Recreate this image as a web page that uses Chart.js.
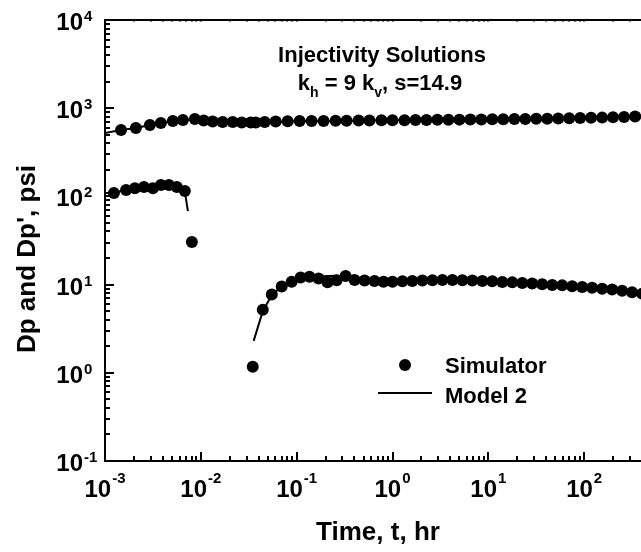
<!DOCTYPE html>
<html>
<head>
<meta charset="utf-8">
<script src="https://cdn.jsdelivr.net/npm/chart.js@4.4.1/dist/chart.umd.min.js"></script>
<style>
  html, body { margin: 0; padding: 0; background: #fff; overflow: hidden; }
  #wrap { width: 641px; height: 552px; overflow: hidden; }
  canvas { display: block; }
</style>
</head>
<body>
<div id="wrap"><canvas id="chart" width="700" height="552"></canvas></div>
<script>
/* Log-log pressure / derivative plot, simulator points against Model 2 */

// simulator pressure change Dp (psi)
var simTimeDp = [0.00147, 0.0021, 0.00294, 0.00383, 0.0051, 0.0065, 0.00866, 0.0107, 0.0133, 0.0169,
  0.0215, 0.0267, 0.0332, 0.0374, 0.0464, 0.0604, 0.0805, 0.1074, 0.1432, 0.191, 0.2547, 0.332,
  0.443, 0.575, 0.767, 1.0, 1.334, 1.738, 2.26, 2.94, 3.83, 4.99, 6.49, 8.45, 11.0, 14.3, 18.7,
  24.3, 31.6, 41.2, 53.6, 69.8, 90.8, 118, 154, 200, 261, 340, 443, 576, 750];
var simDp = [565, 595, 644, 678, 714, 734, 753, 724, 705, 696,
  696, 687, 687, 687, 696, 705, 712, 714, 716, 718, 720, 722,
  724, 726, 728, 730, 732, 734, 736, 738, 740, 742, 744, 746, 748, 750, 752,
  755, 758, 761, 764, 768, 772, 777, 782, 788, 795, 803, 811, 819, 828];

// simulator derivative Dp' (psi)
var simTimeDer = [0.00124, 0.00166, 0.00205, 0.00255, 0.00316, 0.00383, 0.00464, 0.00562, 0.00681, 0.00806,
  0.0348, 0.0443, 0.055, 0.0698, 0.0887, 0.110, 0.136, 0.169, 0.21, 0.261, 0.324, 0.402, 0.511,
  0.649, 0.806, 1.0, 1.27, 1.61, 2.05, 2.61, 3.32, 4.22, 5.36, 6.81, 8.66, 11.0, 14.0, 17.8, 22.6,
  28.7, 36.5, 46.4, 59.0, 75.0, 95.3, 121, 154, 196, 249, 316, 402, 511, 649, 825];
var simDer = [109, 118, 124, 128, 124, 135, 135, 128, 115, 30.5,
  1.17, 5.2, 7.7, 9.5, 10.8, 12.0, 12.3, 11.7, 10.6, 11.2, 12.5, 11.3, 11.1,
  11.0, 10.8, 10.8, 10.9, 11.0, 11.1, 11.2, 11.3, 11.3, 11.2, 11.1, 11.0, 10.9, 10.7, 10.6, 10.4,
  10.3, 10.1, 9.9, 9.8, 9.6, 9.4, 9.2, 9.0, 8.8, 8.5, 8.2, 7.9, 7.6, 7.3, 7.0];

// Model 2 curves
var modelTimeDp = [0.001, 0.00147, 0.0021, 0.00294, 0.00383, 0.0051, 0.0065, 0.00866, 0.0133, 0.02,
  0.03, 0.05, 0.1, 1, 10, 100, 1000];
var modelDp = [523, 565, 598, 645, 680, 714, 735, 750, 712, 698,
  690, 695, 712, 730, 747, 774, 835];
var modelTimeDer = [0.001, 0.00124, 0.00166, 0.00205, 0.00255, 0.00316, 0.00383, 0.00464, 0.00562, 0.00681,
  0.00733, 0.02, 0.0356, 0.0443, 0.055, 0.0698, 0.0887, 0.11, 0.136, 0.169, 0.21, 0.26, 0.33, 0.5,
  1, 3, 10, 30, 100, 300, 1000];
var modelDer = [109, 110, 118, 124, 128, 127, 133, 134, 128, 113,
  68, null, 2.3, 5.0, 7.6, 9.5, 10.9, 11.8, 12.1, 12.3, 12.5, 12.6, 12.3, 11.6,
  11.0, 11.2, 10.9, 10.3, 9.4, 8.3, 7.0];

// axis decades
var xTickExp = [-3, -2, -1, 0, 1, 2, 3];
var yTickExp = [-1, 0, 1, 2, 3, 4];

var FONT = '"Liberation Sans", Arial, Helvetica, sans-serif';

function pts(xs, ys) {
  return xs.map(function (x, i) { return { x: x, y: ys[i] }; });
}

var framePlugin = {
  id: 'frame',
  afterDatasetsDraw: function (chart) {
    var ctx = chart.ctx;
    var a = chart.chartArea;
    var xs = chart.scales.x;
    var ys = chart.scales.y;
    ctx.save();
    ctx.strokeStyle = '#000';
    ctx.fillStyle = '#000';

    // border
    ctx.lineWidth = 2;
    ctx.strokeRect(a.left, a.top, a.right - a.left, a.bottom - a.top);

    // inward ticks
    xTickExp.forEach(function (e) {
      for (var m = 1; m <= 9; m++) {
        var v = m * Math.pow(10, e);
        if (v > xs.max * 1.0001) break;
        var px = Math.round(xs.getPixelForValue(v));
        var len = m === 1 ? 9 : 5;
        ctx.lineWidth = 2;
        ctx.beginPath();
        ctx.moveTo(px, a.bottom);
        ctx.lineTo(px, a.bottom - len);
        ctx.stroke();
        ctx.lineWidth = 1;
        ctx.beginPath();
        ctx.moveTo(px, a.top);
        ctx.lineTo(px, a.top + 2);
        ctx.stroke();
      }
    });
    yTickExp.forEach(function (e) {
      for (var m = 1; m <= 9; m++) {
        var v = m * Math.pow(10, e);
        if (v > ys.max * 1.0001) break;
        var py = Math.round(ys.getPixelForValue(v));
        var len = m === 1 ? 9 : 5;
        ctx.lineWidth = 2;
        ctx.beginPath();
        ctx.moveTo(a.left, py);
        ctx.lineTo(a.left + len, py);
        ctx.moveTo(a.right, py);
        ctx.lineTo(a.right - len, py);
        ctx.stroke();
      }
    });

    // tick labels, 10 with superscript exponent
    var baseFont = 'bold 24px ' + FONT;
    var expFont = 'bold 15px ' + FONT;
    ctx.textBaseline = 'alphabetic';
    xTickExp.forEach(function (e) {
      var px = xs.getPixelForValue(Math.pow(10, e));
      ctx.font = baseFont;
      var wb = ctx.measureText('10').width;
      ctx.font = expFont;
      var we = ctx.measureText(String(e)).width;
      var x0 = px - (wb + we + 1) / 2;
      ctx.textAlign = 'left';
      ctx.font = baseFont;
      ctx.fillText('10', x0, 497);
      ctx.font = expFont;
      ctx.fillText(String(e), x0 + wb + 1, 483);
    });
    yTickExp.forEach(function (e) {
      var py = ys.getPixelForValue(Math.pow(10, e));
      ctx.font = baseFont;
      ctx.textAlign = 'right';
      ctx.fillText('10', 83, py + 10);
      ctx.font = expFont;
      ctx.textAlign = 'left';
      ctx.fillText(String(e), 84, py + 1);
    });

    // axis titles
    ctx.font = 'bold 26px ' + FONT;
    ctx.textAlign = 'center';
    ctx.fillText('Time, t, hr', 378, 540);
    ctx.save();
    ctx.translate(35, 259);
    ctx.rotate(-Math.PI / 2);
    ctx.fillText("Dp and Dp', psi", 0, 0);
    ctx.restore();

    // annotation
    ctx.font = 'bold 22px ' + FONT;
    ctx.fillText('Injectivity Solutions', 382, 62);
    var parts = [['k', 0], ['h', 1], [' = 9 k', 0], ['v', 1], [', s=14.9', 0]];
    var total = 0;
    parts.forEach(function (p) {
      ctx.font = p[1] ? 'bold 14px ' + FONT : 'bold 22px ' + FONT;
      p.push(ctx.measureText(p[0]).width);
      total += p[2];
    });
    var cx = 380 - total / 2;
    ctx.textAlign = 'left';
    parts.forEach(function (p) {
      ctx.font = p[1] ? 'bold 14px ' + FONT : 'bold 22px ' + FONT;
      ctx.fillText(p[0], cx, p[1] ? 97 : 90);
      cx += p[2];
    });

    // legend
    var ds = chart.data.datasets;
    ctx.font = 'bold 22px ' + FONT;
    ctx.beginPath();
    ctx.arc(405, 365, 6, 0, Math.PI * 2);
    ctx.fill();
    ctx.fillText(ds[0].label, 445, 373);
    ctx.lineWidth = 2;
    ctx.beginPath();
    ctx.moveTo(378, 393);
    ctx.lineTo(432, 393);
    ctx.stroke();
    ctx.fillText(ds[2].label, 445, 403);

    ctx.restore();
  }
};

new Chart(document.getElementById('chart'), {
  type: 'scatter',
  data: {
    datasets: [
      { label: 'Simulator', data: pts(simTimeDp, simDp), pointRadius: 6, backgroundColor: '#000', borderWidth: 0, order: 1 },
      { label: 'Simulator', data: pts(simTimeDer, simDer), pointRadius: 6, backgroundColor: '#000', borderWidth: 0, order: 1 },
      { label: 'Model 2', data: pts(modelTimeDp, modelDp), showLine: true, pointRadius: 0, borderColor: '#000', borderWidth: 2, order: 2 },
      { label: 'Model 2', data: pts(modelTimeDer, modelDer), showLine: true, spanGaps: false, pointRadius: 0, borderColor: '#000', borderWidth: 2, order: 2 }
    ]
  },
  options: {
    responsive: false,
    animation: false,
    events: [],
    layout: { padding: { left: 105, right: 20, top: 20, bottom: 91 } },
    plugins: { legend: { display: false }, tooltip: { enabled: false } },
    scales: {
      x: { type: 'logarithmic', min: 0.001, max: 1000, display: false },
      y: { type: 'logarithmic', min: 0.1, max: 10000, display: false }
    }
  },
  plugins: [framePlugin]
});
</script>
</body>
</html>
